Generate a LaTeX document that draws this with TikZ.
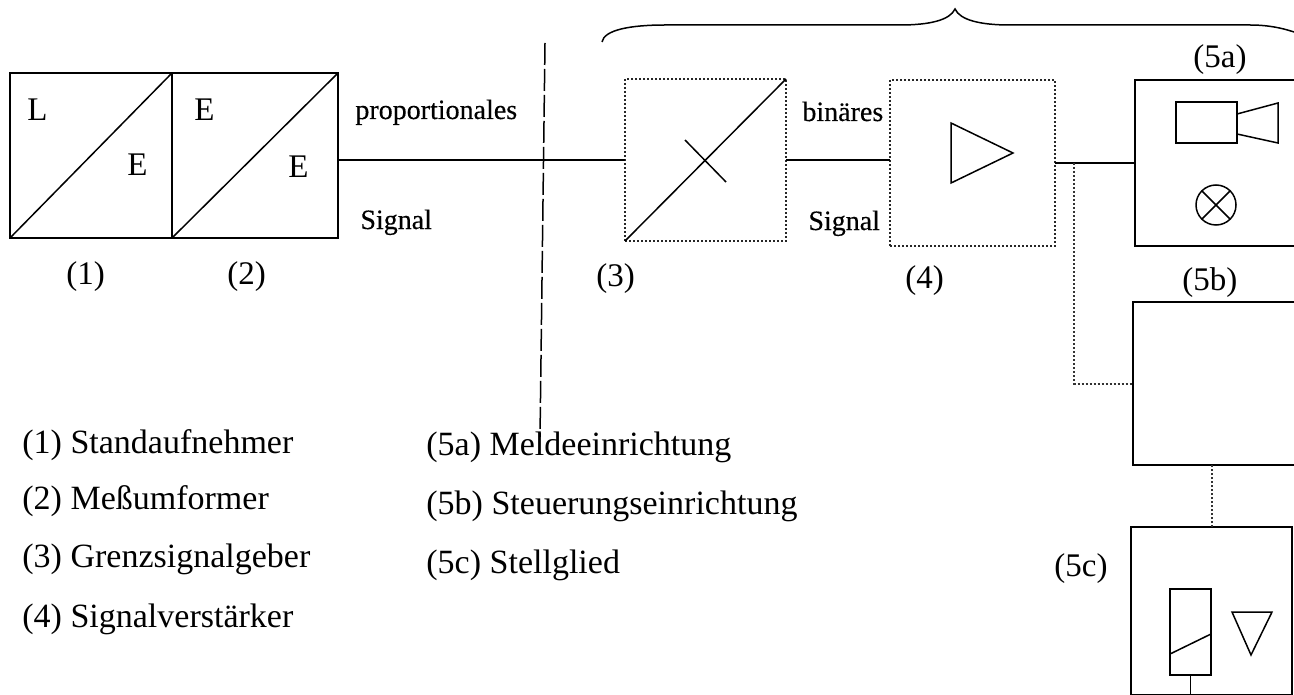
\documentclass[tikz,border=0pt]{standalone}
\usepackage{fontspec}
\setmainfont{Liberation Serif}
\newfontfamily\smalllabelfont[FakeBold=0.35]{Liberation Serif}
\tikzset{
  x=0.5pt,y=-0.5pt,
  solidbox/.style={draw=black,line width=1pt,inner sep=0pt,outer sep=0pt},
  dotbox/.style={draw=black!85,line width=1pt,densely dotted,inner sep=0pt,outer sep=0pt},
  wire/.style={draw=black,line width=1pt},
  dotwire/.style={draw=black!80,line width=1pt,densely dotted},
  sym/.style={draw=black,line width=0.75pt,line join=miter},
  big/.style={font=\fontsize{16.5}{19}\selectfont,inner sep=0pt,anchor=base west},
  legend/.style={font=\fontsize{17}{20}\selectfont,inner sep=0pt,anchor=base west},
  small/.style={font=\smalllabelfont\fontsize{14}{16}\selectfont,inner sep=0pt,anchor=base west},
}
\begin{document}
\begin{tikzpicture}
\useasboundingbox (0,0) rectangle (1294,695);
\clip (0,0) rectangle (1294,695);
\fill[white] (0,0) rectangle (1294,695);
% boxes
\node[solidbox,minimum width=81pt,minimum height=82.5pt] (box1) at (91,155.5) {};
\node[solidbox,minimum width=83pt,minimum height=82.5pt] (box2) at (255,155.5) {};
\node[dotbox,minimum width=80.5pt,minimum height=81pt] (box3) at (705.5,160) {};
\node[dotbox,minimum width=82.5pt,minimum height=83pt] (box4) at (972.5,163) {};
\node[solidbox,minimum width=100pt,minimum height=83pt] (box5a) at (1235,163) {};
\node[solidbox,minimum width=100pt,minimum height=81.5pt] (box5b) at (1233,383.5) {};
\node[solidbox,minimum width=80.5pt,minimum height=84pt] (box5c) at (1211.5,611) {};
% diagonals
\draw[sym] (box1.south west) -- (box1.north east);
\draw[sym] (box2.south west) -- (box2.north east);
\draw[sym] (box3.south west) -- (box3.north east);
% connectors
\draw[wire] (box2.east |- box3.west) -- (box3.west);
\draw[wire] (box3.east) -- (box3.east -| box4.west);
\draw[wire] (box4.east) -- (box5a.west);
\coordinate (junction) at (1074,163);
\draw[dotwire] (junction) |- (box5b.west);
\draw[dotwire] (box5c.north) -- (box5c.north |- box5b.south);
% dashed separator
\coordinate (sepA) at (545,43);
\coordinate (sepB) at (540,437);
\draw[black,line width=0.75pt,dash pattern=on 11pt off 2pt] (sepA) -- (sepB);
% brace
\draw[black,line width=0.75pt] (602,42) .. controls (604,30) and (630,25) .. (665,25) -- (900,25)
  .. controls (930,25) and (950,20) .. (955,9) .. controls (960,20) and (980,25) .. (1010,25) -- (1250,25)
  .. controls (1268,25) and (1282,28) .. (1294,32);
% symbols
\draw[sym] (685,140) -- (726,182);
\draw[sym] (951,123) -- (1013,153) -- (951,183) -- cycle;
\node[solidbox,minimum width=30.5pt,minimum height=20.5pt] (cam) at (1206.5,122.5) {};
\draw[sym] (cam.east |- 0,114) -- (1278,103) -- (1278,143) -- (cam.east |- 0,134);
\node[sym,circle,minimum size=20pt,inner sep=0pt,outer sep=0pt] (lamp) at (1216,205) {};
\draw[sym] (lamp.north west) -- (lamp.south east);
\draw[sym] (lamp.north east) -- (lamp.south west);
\node[solidbox,minimum width=20.5pt,minimum height=43pt] (relay) at (1190.5,632) {};
\draw[sym] (relay.west |- 0,654) -- (relay.east |- 0,634);
\draw[sym] (relay.south) -- (relay.south |- box5c.south);
\draw[sym] (1232,612) -- (1272,612) -- (1251,655) -- cycle;
% labels
\node[big] (a1) at (27,121) {L};
\node[big] (a2) at (127,176) {E};
\node[big] (a3) at (194,121) {E};
\node[big] (a4) at (288,178) {E};
\node[small] (t1) at (355,119) {proportionales};
\node[small] (t2) at (360,229) {Signal};
\node[small] (t3) at (802,121) {binäres};
\node[small] (t4) at (808,230) {Signal};
\node[big] (n1) at (66,285) {(1)};
\node[big] (n2) at (227,285) {(2)};
\node[big] (n3) at (596,286) {(3)};
\node[big] (n4) at (905,288) {(4)};
\node[big] (n5a) at (1193,68) {(5a)};
\node[big] (n5b) at (1182,290) {(5b)};
\node[big] (n5c) at (1054,576) {(5c)};
\node[legend] (l1) at (22,453) {(1) Standaufnehmer};
\node[legend] (l2) at (22,509) {(2) Meßumformer};
\node[legend] (l3) at (22,567) {(3) Grenzsignalgeber};
\node[legend] (l4) at (22,627) {(4) Signalverstärker};
\node[legend] (l5) at (426,455) {(5a) Meldeeinrichtung};
\node[legend] (l6) at (426,514) {(5b) Steuerungseinrichtung};
\node[legend] (l7) at (426,573) {(5c) Stellglied};
\end{tikzpicture}
\end{document}
